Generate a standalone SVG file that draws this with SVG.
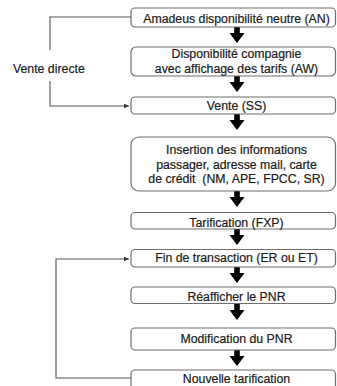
<svg xmlns="http://www.w3.org/2000/svg" width="337" height="386" viewBox="0 0 337 386">
<defs>
<style>
.box{fill:#fff;stroke:#6e6e6e;stroke-width:1.2}
.t{font-family:"Liberation Sans",Arial,sans-serif;font-size:12.3px;fill:#1a1a1a;stroke:#1a1a1a;stroke-width:0.2;text-anchor:middle}
.lbl{font-family:"Liberation Sans",Arial,sans-serif;font-size:12.3px;fill:#1a1a1a;stroke:#1a1a1a;stroke-width:0.2}
.loop{fill:none;stroke:#555;stroke-width:1.1}
.arr{fill:#000}
</style>
<marker id="sm" markerWidth="6" markerHeight="6" refX="5" refY="3" orient="auto" markerUnits="userSpaceOnUse">
<path d="M0,0.8 L5,3 L0,5.2 Z" fill="#333"/>
</marker>
<path id="da" d="M-2.8,0 H2.8 V6 H7.5 L0,16 L-7.5,6 H-2.8 Z"/>
</defs>
<g id="connectors">
<path class="loop" d="M131,17 H50 V50 M50,81 V106 H129" marker-end="url(#sm)"/>
<path class="loop" d="M131,378 H56 V259 H129" marker-end="url(#sm)"/>
<use href="#da" class="arr" x="237" y="27"/>
<use href="#da" class="arr" x="237" y="76"/>
<use href="#da" class="arr" x="237" y="114"/>
<use href="#da" class="arr" x="237" y="191"/>
<use href="#da" class="arr" x="237" y="229"/>
<use href="#da" class="arr" x="237" y="267"/>
<use href="#da" class="arr" x="237" y="304"/>
<use href="#da" class="arr" x="237" y="350"/>
</g>
<g id="label-vente-directe"><text class="lbl" x="13" y="73">Vente directe</text></g>
<g id="n1"><rect class="box" x="131" y="8" width="204.5" height="19" rx="4"/><text class="t" x="236.5" y="22.5">Amadeus disponibilité neutre (AN)</text></g>
<g id="n2"><rect class="box" x="131" y="47" width="204.5" height="29" rx="5"/><text class="t" x="236.5" y="57.5">Disponibilité compagnie</text><text class="t" x="236.5" y="72.5">avec affichage des tarifs (AW)</text></g>
<g id="n3"><rect class="box" x="131" y="97" width="204.5" height="17" rx="4"/><text class="t" x="236.5" y="110">Vente (SS)</text></g>
<g id="n4"><rect class="box" x="131" y="137" width="204.5" height="54" rx="8"/><text class="t" x="236.5" y="154">Insertion des informations</text><text class="t" x="236.5" y="168.5">passager, adresse mail, carte</text><text class="t" x="236.5" y="182.5" xml:space="preserve">de crédit  (NM, APE, FPCC, SR)</text></g>
<g id="n5"><rect class="box" x="131" y="212.5" width="204.5" height="16.5" rx="4"/><text class="t" x="236.5" y="226.5">Tarification (FXP)</text></g>
<g id="n6"><rect class="box" x="131" y="249.5" width="204.5" height="17.5" rx="4"/><text class="t" x="236.5" y="262">Fin de transaction (ER ou ET)</text></g>
<g id="n7"><rect class="box" x="131" y="287" width="204.5" height="16.5" rx="4"/><text class="t" x="236.5" y="300.5">Réafficher le PNR</text></g>
<g id="n8"><rect class="box" x="131" y="328" width="204.5" height="22" rx="4"/><text class="t" x="236.5" y="343">Modification du PNR</text></g>
<g id="n9"><rect class="box" x="131" y="370" width="204.5" height="22" rx="4"/><text class="t" x="236.5" y="382.5">Nouvelle tarification</text></g>
</svg>
